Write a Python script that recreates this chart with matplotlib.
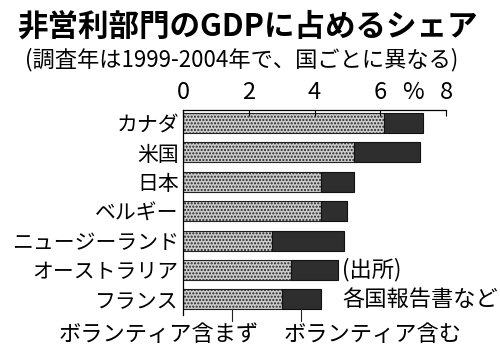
# -*- coding: utf-8 -*-

import numpy as np
import matplotlib.pyplot as plt

plt.rcParams['font.family'] = ['Noto Sans CJK JP', 'DejaVu Sans']

countries = ['カナダ', '米国', '日本', 'ベルギー', 'ニュージーランド', 'オーストラリア', 'フランス']
without_vol = [6.1, 5.2, 4.2, 4.2, 2.7, 3.3, 3.0]   # ボランティア含まず
with_vol = [7.3, 7.2, 5.2, 5.0, 4.9, 4.7, 4.2]      # ボランティア含む
xticks = [0, 2, 4, 6, 8]

fig = plt.figure(figsize=(5, 3.6), dpi=100)
ax = fig.add_axes([0.366, 0.125, 0.526, 0.57])

y = np.arange(len(countries))
h = 0.68
light = np.array(without_vol)
extra = np.array(with_vol) - light

ax.barh(y, light, height=h, color='#cccccc', edgecolor='#222222',
        hatch='.....', linewidth=0.8)
ax.barh(y, extra, left=light, height=h, color='#2e2e2e', edgecolor='#111111',
        linewidth=0.8)

ax.set_xlim(0, 8)
ax.set_ylim(len(countries) - 1 + 0.53, -0.44)
ax.set_yticks(y)
ax.set_yticklabels(countries, fontsize=15)
ax.tick_params(axis='y', length=0, pad=3)
ax.xaxis.tick_top()
ax.set_xticks(xticks)
ax.set_xticklabels([str(t) for t in xticks], fontsize=17)
ax.tick_params(axis='x', direction='in', length=4, pad=4, width=0.8)
ax.annotate('%', xy=(7, 1.0), xycoords=ax.get_xaxis_transform(),
            xytext=(0, 4), textcoords='offset points', fontsize=17,
            ha='center', va='bottom')
for s in ['right', 'bottom']:
    ax.spines[s].set_visible(False)
ax.spines['top'].set_linewidth(0.9)
ax.spines['left'].set_linewidth(0.9)

# leader lines for the legend under the France bar
fr = len(countries) - 1
for xm in [light[fr] / 2, (light[fr] + with_vol[fr]) / 2]:
    ax.plot([xm, xm], [fr + h / 2, fr + 0.72], color='#222222', lw=0.8,
            clip_on=False)
ax.text(-0.73, fr + 1.18, 'ボランティア含まず', fontsize=16, ha='center', va='center')
ax.text(5.77, fr + 1.18, 'ボランティア含む', fontsize=16, ha='center', va='center')

ax.text(4.85, 5.0, '(出所)', fontsize=16, ha='left', va='center')
ax.text(4.85, 6.0, '各国報告書など', fontsize=16, ha='left', va='center')

fig.text(0.034, 0.925, '非営利部門のGDPに占めるシェア', fontsize=22,
         fontweight='bold', ha='left', va='center')
fig.text(0.05, 0.835, '(調査年は1999-2004年で、国ごとに異なる)', fontsize=16,
         ha='left', va='center')

fig.savefig('out.png', dpi=100)
